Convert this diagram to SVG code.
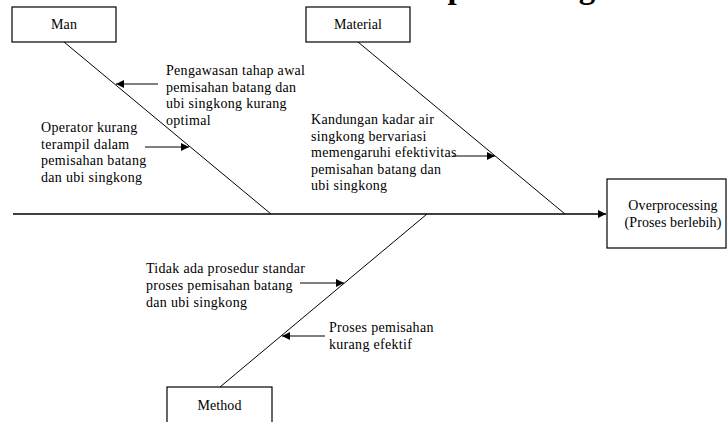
<svg xmlns="http://www.w3.org/2000/svg" width="728" height="422" viewBox="0 0 728 422">
  <defs>
    <marker id="head" markerUnits="userSpaceOnUse" markerWidth="9" markerHeight="8" refX="8" refY="4" orient="auto">
      <path d="M0,0 L8,4 L0,8 Z" fill="#000"/>
    </marker>
    <style>
      .box { fill: #fff; stroke: #000; stroke-width: 1.2; }
      .bone { stroke: #000; stroke-width: 1; fill: none; }
      .spine { stroke: #000; stroke-width: 1.6; fill: none; }
      .cause { stroke: #000; stroke-width: 1; fill: none; marker-end: url(#head); }
      text { font-family: "Liberation Serif", "Times New Roman", serif; font-size: 14px; letter-spacing: 0.3px; fill: #000; }
      .mid { text-anchor: middle; letter-spacing: 0.1px; }
      .title { font-size: 33px; font-weight: bold; letter-spacing: 0; }
    </style>
  </defs>

  <rect width="728" height="422" fill="#fff"/>

  <!-- heading, mostly above the top edge -->
  <text class="title" x="376" y="-2">Overprocessing</text>

  <!-- connectors: spine and bones -->
  <g id="connectors">
    <line class="spine" x1="13" y1="214" x2="606" y2="214" marker-end="url(#head)"/>
    <line class="bone" x1="64" y1="42" x2="271" y2="214"/>
    <line class="bone" x1="358" y1="42" x2="565" y2="214"/>
    <line class="bone" x1="427" y1="214" x2="220" y2="387"/>
    <line class="cause" x1="158" y1="84" x2="116" y2="84"/>
    <line class="cause" x1="145" y1="147" x2="189" y2="147"/>
    <line class="cause" x1="453" y1="156" x2="495" y2="156"/>
    <line class="cause" x1="300" y1="283" x2="344" y2="283"/>
    <line class="cause" x1="325" y1="336" x2="282" y2="336"/>
  </g>

  <g id="man">
    <rect class="box" x="12" y="7" width="104" height="35"/>
    <text class="mid" x="64" y="29">Man</text>
  </g>

  <g id="material">
    <rect class="box" x="306" y="7" width="104" height="35"/>
    <text class="mid" x="358" y="29">Material</text>
  </g>

  <g id="method">
    <rect class="box" x="167" y="387" width="105" height="50"/>
    <text class="mid" x="219.5" y="410">Method</text>
  </g>

  <g id="effect">
    <rect class="box" x="607" y="179" width="119" height="69"/>
    <text class="mid" x="673" y="210">Overprocessing</text>
    <text class="mid" x="673" y="227">(Proses berlebih)</text>
  </g>

  <g id="cause-man-1">
    <text x="166" y="75">Pengawasan tahap awal</text>
    <text x="166" y="91.5">pemisahan batang dan</text>
    <text x="166" y="108">ubi singkong kurang</text>
    <text x="166" y="124.5">optimal</text>
  </g>

  <g id="cause-man-2">
    <text x="41" y="132">Operator kurang</text>
    <text x="41" y="148.5">terampil dalam</text>
    <text x="41" y="165">pemisahan batang</text>
    <text x="41" y="181.5">dan ubi singkong</text>
  </g>

  <g id="cause-material-1">
    <text x="311" y="124">Kandungan kadar air</text>
    <text x="311" y="140.5">singkong bervariasi</text>
    <text x="311" y="157">memengaruhi efektivitas</text>
    <text x="311" y="173.5">pemisahan batang dan</text>
    <text x="311" y="190">ubi singkong</text>
  </g>

  <g id="cause-method-1">
    <text x="146" y="273">Tidak ada prosedur standar</text>
    <text x="146" y="290">proses pemisahan batang</text>
    <text x="146" y="307">dan ubi singkong</text>
  </g>

  <g id="cause-method-2">
    <text x="329" y="332">Proses pemisahan</text>
    <text x="329" y="349">kurang efektif</text>
  </g>
</svg>
